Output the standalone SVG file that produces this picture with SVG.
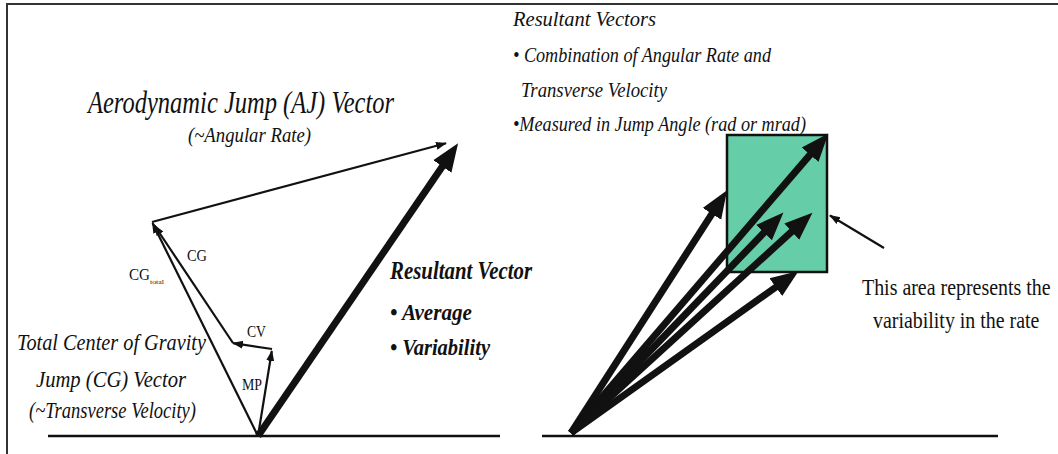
<svg xmlns="http://www.w3.org/2000/svg" width="1058" height="454" viewBox="0 0 1058 454">
<style>
.t{font-family:"Liberation Serif","Times New Roman",serif;fill:#111}
.i{font-style:italic}
.b{font-weight:bold}
.thin{stroke:#111;stroke-width:2.2;fill:none}
.thick{stroke:#111;stroke-width:7;fill:none}
.base{stroke:#111;stroke-width:2.5}
</style>
<defs>
<marker id="ah" markerUnits="userSpaceOnUse" markerWidth="32" markerHeight="26" viewBox="0 -13 32 26" refX="14" refY="0" orient="auto">
<path d="M0,-11 L28,0 L0,11 z" fill="#111"/>
</marker>
<marker id="as" markerUnits="userSpaceOnUse" markerWidth="14" markerHeight="10" viewBox="0 -5 14 10" refX="10" refY="0" orient="auto">
<path d="M0,-4 L11,0 L0,4 z" fill="#111"/>
</marker>
</defs>
<rect width="1058" height="454" fill="#fff"/>
<path d="M7,454 V4 H1058" fill="none" stroke="#333" stroke-width="2"/>

<g id="baselines">
<line class="base" x1="48" y1="436" x2="500" y2="436"/>
<line class="base" x1="542" y1="436" x2="998" y2="436"/>
</g>

<g id="box">
<rect x="727" y="135" width="100" height="137" fill="#66CDA9" stroke="#111" stroke-width="2.5"/>
</g>

<g id="connectors">
<line class="thin" x1="152" y1="222" x2="446" y2="143.3" marker-end="url(#as)"/>
<line class="thin" x1="258" y1="436" x2="152.5" y2="223" marker-end="url(#as)"/>
<line class="thin" x1="233" y1="343" x2="154.5" y2="225.5" marker-end="url(#as)"/>
<line class="thin" x1="272" y1="349" x2="233" y2="343.2" marker-end="url(#as)"/>
<line class="thin" x1="258" y1="436" x2="271.8" y2="351" marker-end="url(#as)"/>
<line class="thick" x1="258" y1="436" x2="450.2" y2="154.9" marker-end="url(#ah)"/>
<line class="thick" x1="571" y1="433" x2="719.5" y2="202.1" marker-end="url(#ah)"/>
<line class="thick" x1="571" y1="433" x2="819.2" y2="144.1" marker-end="url(#ah)"/>
<line class="thick" x1="571" y1="433" x2="773.7" y2="222.6" marker-end="url(#ah)"/>
<line class="thick" x1="571" y1="433" x2="802.1" y2="222.1" marker-end="url(#ah)"/>
<line class="thick" x1="571" y1="433" x2="787.2" y2="279.0" marker-end="url(#ah)"/>
<line class="thin" x1="884" y1="248" x2="830" y2="215.5" marker-end="url(#as)"/>
</g>

<g id="aj-label">
<text class="t i" x="88" y="113" font-size="31" textLength="306" lengthAdjust="spacingAndGlyphs">Aerodynamic Jump (AJ) Vector</text>
<text class="t i" x="188" y="142" font-size="22" textLength="123" lengthAdjust="spacingAndGlyphs">(~Angular Rate)</text>
</g>

<g id="resultant-vectors-label">
<text class="t i" x="513" y="26" font-size="21" textLength="143" lengthAdjust="spacingAndGlyphs">Resultant Vectors</text>
<text class="t i" x="513" y="62" font-size="21" textLength="258" lengthAdjust="spacingAndGlyphs">• Combination of Angular Rate and</text>
<text class="t i" x="521" y="97" font-size="21" textLength="146" lengthAdjust="spacingAndGlyphs">Transverse Velocity</text>
<text class="t i" x="513" y="131" font-size="21" textLength="293" lengthAdjust="spacingAndGlyphs">•Measured in Jump Angle (rad or mrad)</text>
</g>

<g id="resultant-vector-label">
<text class="t i b" x="390" y="279" font-size="25" textLength="142" lengthAdjust="spacingAndGlyphs">Resultant Vector</text>
<text class="t i b" x="390" y="320" font-size="23" textLength="82" lengthAdjust="spacingAndGlyphs">• Average</text>
<text class="t i b" x="390" y="355" font-size="23" textLength="100" lengthAdjust="spacingAndGlyphs">• Variability</text>
</g>

<g id="cg-label">
<text class="t i" x="17" y="350" font-size="23" textLength="189" lengthAdjust="spacingAndGlyphs">Total Center of Gravity</text>
<text class="t i" x="36" y="387" font-size="23" textLength="150" lengthAdjust="spacingAndGlyphs">Jump (CG) Vector</text>
<text class="t i" x="29" y="418" font-size="23" textLength="167" lengthAdjust="spacingAndGlyphs">(~Transverse Velocity)</text>
</g>

<g id="vector-labels">
<text class="t" x="187" y="261" font-size="16" textLength="20" lengthAdjust="spacingAndGlyphs">CG</text>
<text class="t" x="129" y="280" font-size="16" textLength="21" lengthAdjust="spacingAndGlyphs">CG</text>
<text class="t" x="150" y="284" font-size="7" textLength="14" lengthAdjust="spacingAndGlyphs">total</text>
<text class="t" x="247" y="337" font-size="16" textLength="19" lengthAdjust="spacingAndGlyphs">CV</text>
<text class="t" x="242" y="390" font-size="16" textLength="20" lengthAdjust="spacingAndGlyphs">MP</text>
</g>

<g id="area-label">
<text class="t" transform="translate(862,295) scale(0.83,1)" font-size="24">This area represents the</text>
<text class="t" transform="translate(873,328) scale(0.83,1)" font-size="24">variability in the  rate</text>
</g>
</svg>
